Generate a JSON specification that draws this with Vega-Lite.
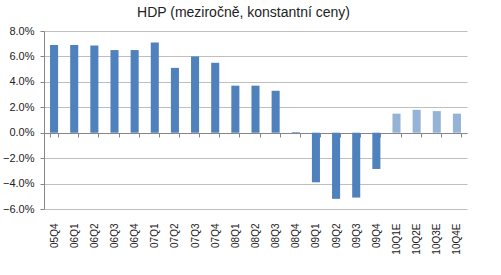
{
  "$schema": "https://vega.github.io/schema/vega-lite/v6.json",
  "autosize": {"type": "none"},
  "width": 423,
  "height": 178,
  "padding": {"left": 44, "top": 31, "right": 34, "bottom": 66},
  "background": "white",
  "title": {"text": "HDP (meziročně, konstantní ceny)", "font": "Liberation Sans", "fontSize": 14, "fontWeight": "normal", "color": "#222222", "anchor": "middle", "offset": 5, "dx": -12},
  "data": {"values": [
    {"q": "05Q4", "v": 6.9, "t": "a"},
    {"q": "06Q1", "v": 6.9, "t": "a"},
    {"q": "06Q2", "v": 6.85, "t": "a"},
    {"q": "06Q3", "v": 6.5, "t": "a"},
    {"q": "06Q4", "v": 6.5, "t": "a"},
    {"q": "07Q1", "v": 7.1, "t": "a"},
    {"q": "07Q2", "v": 5.1, "t": "a"},
    {"q": "07Q3", "v": 6.0, "t": "a"},
    {"q": "07Q4", "v": 5.5, "t": "a"},
    {"q": "08Q1", "v": 3.7, "t": "a"},
    {"q": "08Q2", "v": 3.7, "t": "a"},
    {"q": "08Q3", "v": 3.3, "t": "a"},
    {"q": "08Q4", "v": 0.05, "t": "a"},
    {"q": "09Q1", "v": -3.9, "t": "a"},
    {"q": "09Q2", "v": -5.2, "t": "a"},
    {"q": "09Q3", "v": -5.1, "t": "a"},
    {"q": "09Q4", "v": -2.85, "t": "a"},
    {"q": "10Q1E", "v": 1.5, "t": "f"},
    {"q": "10Q2E", "v": 1.8, "t": "f"},
    {"q": "10Q3E", "v": 1.7, "t": "f"},
    {"q": "10Q4E", "v": 1.5, "t": "f"}
  ]},
  "config": {"view": {"stroke": null}},
  "layer": [
    {
      "mark": {"type": "bar"},
      "encoding": {
        "x": {"field": "q", "type": "nominal", "sort": null,
          "scale": {"paddingInner": 0.6, "paddingOuter": 0.3},
          "axis": {"title": null, "labelAngle": -90, "labelFont": "Liberation Sans", "labelFontSize": 10, "labelColor": "#222222",
            "domainColor": "#868686", "tickColor": "#868686", "tickSize": 4, "tickBand": "extent",
            "offset": -76, "labelPadding": 86, "grid": false}},
        "y": {"field": "v", "type": "quantitative",
          "scale": {"domain": [-6, 8], "nice": false},
          "axis": {"title": null, "values": [-6, -4, -2, 0, 2, 4, 6, 8], "labelExpr": "format(datum.value, '.1f') + '%'",
            "labelFont": "Liberation Sans", "labelFontSize": 11, "labelColor": "#222222", "labelPadding": 6,
            "domainColor": "#868686", "tickColor": "#868686", "tickSize": 4,
            "gridColor": "#BFBFBF", "gridWidth": 1}},
        "color": {"field": "t", "type": "nominal", "scale": {"domain": ["a", "f"], "range": ["#4F81BD", "#95B3D7"]}, "legend": null}
      }
    }
  ]
}
